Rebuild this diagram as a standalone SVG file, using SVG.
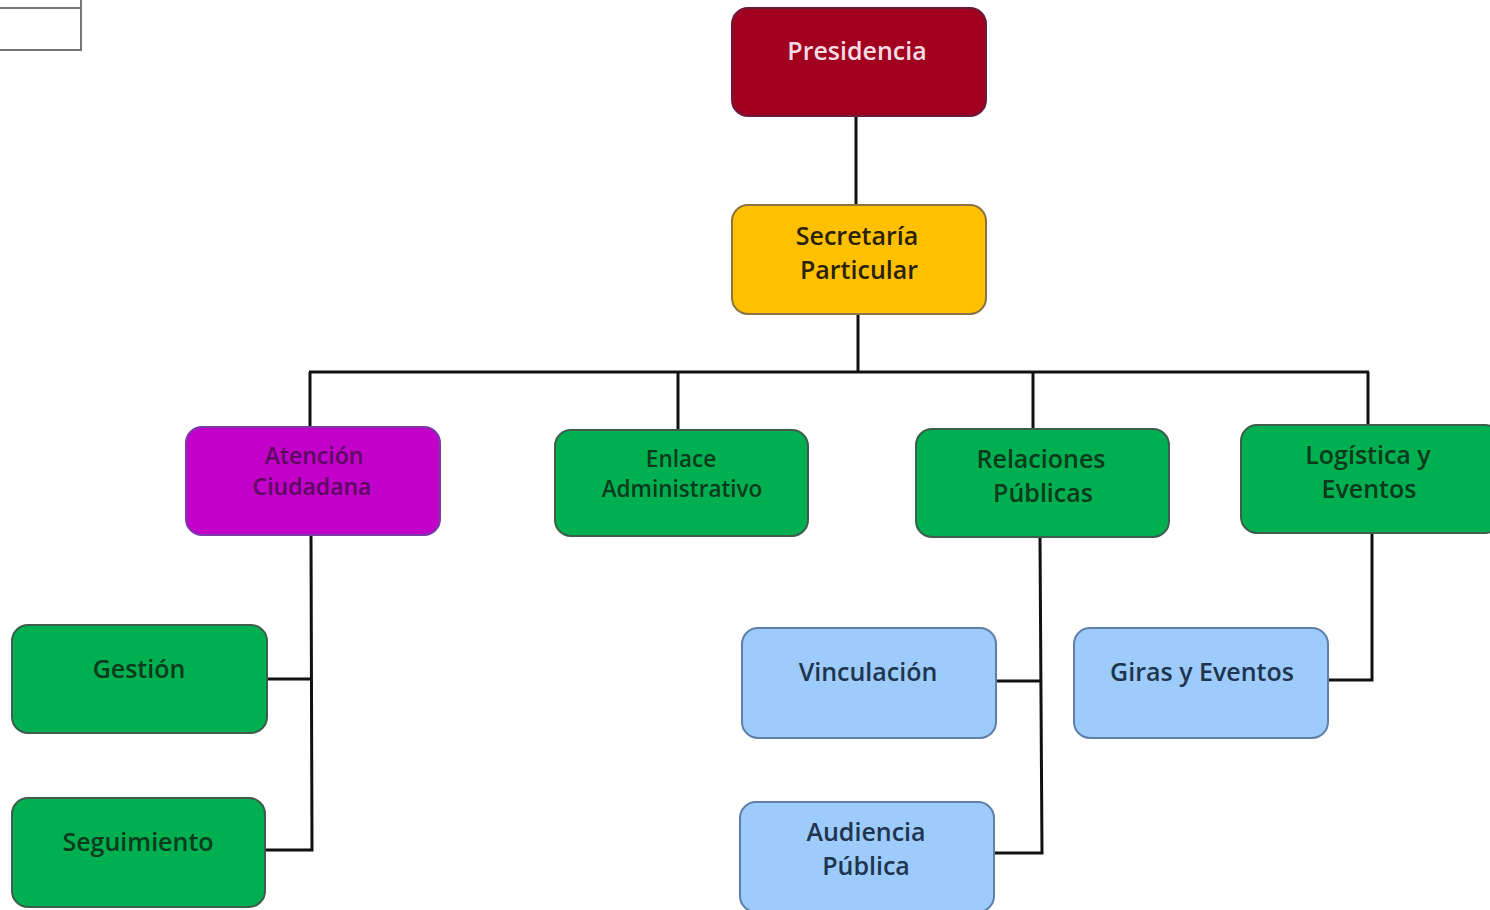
<svg xmlns="http://www.w3.org/2000/svg" width="1490" height="910" viewBox="0 0 1490 910">
<style>
.n{stroke-width:2}
.red{fill:#a1001f;stroke:#6b1a3a}
.yel{fill:#ffc000;stroke:#8a7440}
.mag{fill:#c300c9;stroke:#7a3aa8}
.grn{fill:#00b050;stroke:#3d5e4c}
.blu{fill:#9dcbfb;stroke:#5f7fa8}
text{font-family:"Open Sans","Noto Sans","Liberation Sans",sans-serif;font-size:25px;font-weight:600;text-anchor:middle}
.tw{fill:#f4dce2}
.td{fill:#2a2208}
.tm{fill:#5a0a60;font-size:23px}
.tg{fill:#0c3a1c}
.tgs{fill:#0c3a1c;font-size:22.5px}
.tb{fill:#1e3550}
.c{fill:none;stroke:#111;stroke-width:3}
</style>
<g id="frame">
<rect x="-2" y="8" width="83" height="42" fill="#fff" stroke="#777" stroke-width="2"/>
<line x1="81" y1="0" x2="81" y2="8" stroke="#777" stroke-width="2"/>
</g>
<g id="connectors">
<line class="c" x1="856" y1="116" x2="856" y2="205"/>
<line class="c" x1="858" y1="314" x2="858" y2="372"/>
<line class="c" x1="309" y1="372" x2="1369" y2="372"/>
<line class="c" x1="310" y1="372" x2="310" y2="427"/>
<line class="c" x1="678" y1="372" x2="678" y2="430"/>
<line class="c" x1="1033" y1="372" x2="1033" y2="429"/>
<line class="c" x1="1368" y1="372" x2="1368" y2="425"/>
<polyline class="c" points="311,535 312,850 265,850"/>
<line class="c" x1="267" y1="679" x2="312" y2="679"/>
<polyline class="c" points="1040,537 1042,853 994,853"/>
<line class="c" x1="996" y1="681" x2="1041" y2="681"/>
<polyline class="c" points="1372,533 1372,680 1328,680"/>
</g>
<g id="presidencia"><rect class="n red" x="732" y="8" width="254" height="108" rx="16"/><text class="tw" x="857" y="60">Presidencia</text></g>
<g id="secretaria"><rect class="n yel" x="732" y="205" width="254" height="109" rx="16"/><text class="td" x="857" y="245">Secretaría</text><text class="td" x="859" y="279">Particular</text></g>
<g id="atencion"><rect class="n mag" x="186" y="427" width="254" height="108" rx="16"/><text class="tm" x="314" y="464">Atención</text><text class="tm" x="312" y="495">Ciudadana</text></g>
<g id="enlace"><rect class="n grn" x="555" y="430" width="253" height="106" rx="16"/><text class="tgs" x="681" y="467">Enlace</text><text class="tgs" x="682" y="497">Administrativo</text></g>
<g id="relaciones"><rect class="n grn" x="916" y="429" width="253" height="108" rx="16"/><text class="tg" x="1041" y="468">Relaciones</text><text class="tg" x="1043" y="502">Públicas</text></g>
<g id="logistica"><rect class="n grn" x="1241" y="425" width="260" height="108" rx="16"/><text class="tg" x="1368" y="464">Logística y</text><text class="tg" x="1369" y="498">Eventos</text></g>
<g id="gestion"><rect class="n grn" x="12" y="625" width="255" height="108" rx="16"/><text class="tg" x="139" y="678">Gestión</text></g>
<g id="seguimiento"><rect class="n grn" x="12" y="798" width="253" height="109" rx="16"/><text class="tg" x="138" y="851">Seguimiento</text></g>
<g id="vinculacion"><rect class="n blu" x="742" y="628" width="254" height="110" rx="16"/><text class="tb" x="868" y="681">Vinculación</text></g>
<g id="giras"><rect class="n blu" x="1074" y="628" width="254" height="110" rx="16"/><text class="tb" x="1202" y="681">Giras y Eventos</text></g>
<g id="audiencia"><rect class="n blu" x="740" y="802" width="254" height="110" rx="16"/><text class="tb" x="866" y="841">Audiencia</text><text class="tb" x="866" y="875">Pública</text></g>
</svg>
